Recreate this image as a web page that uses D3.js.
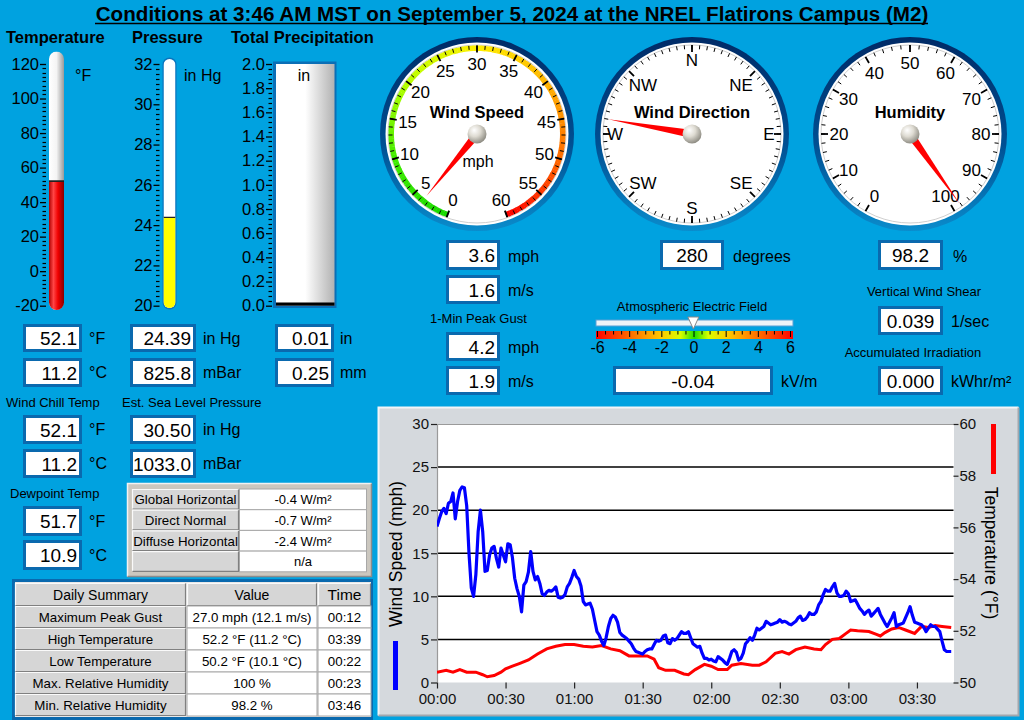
<!DOCTYPE html>
<html><head><meta charset="utf-8">
<script src="https://cdnjs.cloudflare.com/ajax/libs/d3/7.8.5/d3.min.js"></script>
<style>html,body{margin:0;padding:0;background:#00A2E0;overflow:hidden}</style>
</head><body>
<svg id="c" width="1024" height="720"></svg>
<script>
// ===================== DATA =====================
const titleText = "Conditions at 3:46 AM MST on September 5, 2024 at the NREL Flatirons Campus (M2)";
const headerLabels = ["Temperature", "Pressure", "Total Precipitation"];
const tempTicks = [-20, 0, 20, 40, 60, 80, 100, 120];
const pressTicks = [20, 22, 24, 26, 28, 30, 32];
const precipTicks = [0, 0.2, 0.4, 0.6, 0.8, 1.0, 1.2, 1.4, 1.6, 1.8, 2.0];
const airTemp = [52.1, 11.2];          // °F, °C
const pressure = [24.39, 825.8];       // in Hg, mBar
const precip = [0.01, 0.25];           // in, mm
const windChill = [52.1, 11.2];
const seaLevel = [30.50, 1033.0];
const dewpoint = [51.7, 10.9];
const windSpeedNow = [3.6, 1.6];       // mph, m/s
const peakGust = [4.2, 1.9];
const windDirNow = 280;
const humidityNow = 98.2;
const windShear = 0.039;
const irradiation = 0.000;
const efield = -0.04;
const speedGaugeTicks = [0, 5, 10, 15, 20, 25, 30, 35, 40, 45, 50, 55, 60];
const humidityTicks = [0, 10, 20, 30, 40, 50, 60, 70, 80, 90, 100];
const compassLabels = ["N", "NE", "E", "SE", "S", "SW", "W", "NW"];
const efieldTicks = [-6, -4, -2, 0, 2, 4, 6];
const irrLabels = ["Global Horizontal", "Direct Normal", "Diffuse Horizontal", ""];
const irrValues = ["-0.4 W/m²", "-0.7 W/m²", "-2.4 W/m²", "n/a"];
const summaryHeader = ["Daily Summary", "Value", "Time"];
const summaryLabels = ["Maximum Peak Gust", "High Temperature", "Low Temperature", "Max. Relative Humidity", "Min. Relative Humidity"];
const summaryValues = ["27.0 mph (12.1 m/s)", "52.2 °F  (11.2 °C)", "50.2 °F  (10.1 °C)", "100 %", "98.2 %"];
const summaryTimes = ["00:12", "03:39", "00:22", "00:23", "03:46"];

// Time series: one wind-speed sample per minute starting 00:00 (mph)
const windSpeedSeries = [
 18.1,19.0,19.8,20.2,19.6,20.8,21.0,22.0,19.0,21.0,22.3,22.7,22.6,20.5,15.0,11.0,10.0,12.5,17.5,20.0,
 17.5,12.9,13.0,14.8,15.6,15.8,14.4,13.4,15.6,14.8,14.0,16.1,16.0,14.5,12.1,10.9,10.0,8.2,11.3,11.7,
 12.8,15.2,12.9,11.9,12.3,11.5,10.3,10.1,10.5,10.7,10.6,10.8,11.1,9.9,9.8,9.9,10.2,11.1,11.5,12.2,
 13.0,12.3,12.0,11.2,9.4,9.0,9.1,9.2,8.5,7.2,5.9,5.5,4.8,4.3,5.2,6.5,7.4,7.8,7.6,7.0,
 5.8,5.5,5.3,5.1,4.8,4.5,4.0,3.6,3.5,3.4,3.3,3.6,3.8,3.9,3.9,4.4,4.9,4.8,4.9,5.4,
 5.5,4.6,4.5,5.1,4.9,5.1,5.5,5.9,5.7,5.7,5.9,5.2,4.5,4.3,4.1,4.2,3.4,2.8,2.8,2.6,
 2.7,2.5,2.4,3.0,2.8,2.6,2.3,2.1,2.8,3.6,3.8,3.5,2.6,2.8,3.4,4.5,4.8,5.2,4.9,5.5,
 6.3,6.1,6.3,6.5,7.1,6.9,6.7,6.8,6.9,7.0,7.3,7.0,7.1,7.0,6.8,6.7,6.9,7.1,7.5,7.7,
 7.2,7.3,7.6,8.1,7.9,7.9,8.2,9.0,9.4,10.2,10.8,10.6,10.6,11.1,11.5,10.4,10.0,10.0,10.1,10.6,
 10.3,9.4,9.5,9.6,9.1,8.6,8.3,7.9,8.2,8.4,7.7,8.0,8.3,8.6,7.9,7.4,6.9,6.5,7.0,7.5,
 8.1,6.5,6.7,6.8,6.9,7.5,8.1,8.8,7.8,7.0,6.9,6.8,6.7,6.4,5.9,6.3,6.7,6.5,6.5,6.2,
 5.9,4.8,3.8,3.6,3.6,3.6
];
const tempMinutes = [0,4,7,10,13,17,20,22,25,28,30,33,36,40,44,48,52,56,60,64,68,72,76,80,84,88,92,95,97,100,
 104,108,110,113,117,120,123,127,129,133,138,141,144,148,151,154,157,161,165,168,170,173,176,179,181,184,189,192,194,196,
 199,202,205,209,212,215,218,221,225];
const tempSeries = [50.40,50.47,50.40,50.50,50.40,50.40,50.30,50.22,50.27,50.40,50.53,50.63,50.73,50.87,51.10,51.30,51.40,51.47,51.47,51.40,
 51.37,51.43,51.30,51.23,51.03,51.03,51.03,50.90,50.57,50.47,50.47,50.33,50.30,50.50,50.70,50.63,50.50,50.50,50.67,50.73,
 50.67,50.67,50.80,51.13,51.20,51.10,51.27,51.37,51.30,51.27,51.47,51.67,51.70,51.90,52.03,52.00,51.97,51.87,51.80,51.93,
 52.07,52.13,52.03,51.90,52.17,52.13,52.20,52.17,52.13];
const timeTicks = [0, 30, 60, 90, 120, 150, 180, 210];
const speedAxisTicks = [0, 5, 10, 15, 20, 25, 30];
const tempAxisTicks = [50, 52, 54, 56, 58, 60];

// ===================== DRAWING =====================
const FONT = '"Liberation Sans", Arial, Helvetica, sans-serif';
const BG = '#00A2E0', BOXC = '#0A69AE';
const svg = d3.select('#c').style('font-family', FONT);
svg.append('rect').attr('width', 1024).attr('height', 720).attr('fill', BG);
const defs = svg.append('defs');
function lin(id, stops, x1 = 0, y1 = 0, x2 = 1, y2 = 0) {
  const g = defs.append('linearGradient').attr('id', id).attr('x1', x1).attr('y1', y1).attr('x2', x2).attr('y2', y2);
  stops.forEach(([o, c]) => g.append('stop').attr('offset', o).attr('stop-color', c));
}
lin('tubeW', [[0, '#ffffff'], [0.5, '#f4f4f4'], [1, '#9a9a9a']]);
lin('tubeR', [[0, '#b00000'], [0.3, '#ff4545'], [0.6, '#f00000'], [1, '#880000']]);
lin('precG', [[0, '#ffffff'], [0.5, '#ffffff'], [1, '#b2b2b2']]);
lin('ring', [[0, '#002a66'], [0.55, '#004f92'], [1, '#0a8ccc']], 0, 0, 0, 1);
lin('efGrad', [[0, '#ff0000'], [0.17, '#ff6a00'], [0.33, '#ffc800'], [0.43, '#d8ff00'], [0.5, '#20e000'], [0.57, '#d8ff00'], [0.67, '#ffc800'], [0.83, '#ff6a00'], [1, '#ff0000']]);
const kg = defs.append('radialGradient').attr('id', 'knob').attr('cx', 0.4).attr('cy', 0.35).attr('r', 0.7).attr('fx', 0.35).attr('fy', 0.3);
[[0, '#ffffff'], [0.45, '#dedbd2'], [1, '#85837a']].forEach(([o, c]) => kg.append('stop').attr('offset', o).attr('stop-color', c));

function txt(x, y, s, o = {}) {
  return svg.append('text').attr('x', x).attr('y', y).attr('font-size', o.size || 13)
    .attr('font-weight', o.bold ? 'bold' : null).attr('text-anchor', o.anchor || 'start')
    .attr('fill', o.fill || '#000').text(s);
}
function vbox(x, y, w, h, val, align) {
  svg.append('rect').attr('x', x).attr('y', y).attr('width', w).attr('height', h).attr('fill', BOXC);
  svg.append('rect').attr('x', x + 3).attr('y', y + 3).attr('width', w - 6).attr('height', h - 6).attr('fill', '#fff');
  if (align === 'center') txt(x + w / 2, y + h / 2 + 7, val, {size: 19, anchor: 'middle'});
  else txt(x + w - 5, y + h / 2 + 7, val, {size: 19, anchor: 'end'});
}

// ---- Title ----
const tt = txt(512, 21, titleText, {size: 19.5, bold: true, anchor: 'middle'});
const tl = tt.node().getComputedTextLength();
tt.attr('font-size', 19.5 * 833 / tl);
svg.append('line').attr('x1', 95).attr('x2', 928).attr('y1', 23.5).attr('y2', 23.5).attr('stroke', '#000').attr('stroke-width', 1.5);

// ---- Headers ----
txt(6, 43, headerLabels[0], {size: 16.5, bold: true});
txt(132, 43, headerLabels[1], {size: 16.5, bold: true});
txt(231, 43, headerLabels[2], {size: 16.5, bold: true});

// ---- vertical scales ----
function vAxis(scale, x, majors, minorStep, fmt) {
  const g = svg.append('g').attr('transform', `translate(${x},0)`);
  g.call(d3.axisLeft(scale).tickValues(majors).tickSize(6).tickPadding(1).tickFormat(fmt));
  g.select('.domain').remove();
  g.selectAll('.tick line').attr('stroke', '#000').attr('stroke-width', 1.3);
  g.selectAll('text').attr('font-size', 16.5).attr('font-family', FONT).attr('fill', '#000');
  const [a, b] = scale.domain();
  const minors = d3.range(Math.round((b - a) / minorStep) + 1).map(i => a + i * minorStep)
    .filter(v => !majors.some(m => Math.abs(m - v) < 1e-6));
  g.selectAll('.mn').data(minors).join('line').attr('x1', -3.5).attr('x2', 0)
    .attr('y1', d => Math.round(scale(d)) + 0.5).attr('y2', d => Math.round(scale(d)) + 0.5)
    .attr('stroke', '#000').attr('stroke-width', 1.2);
}
const yTemp = d3.scaleLinear([-20, 120], [305.7, 64]);
const yPress = d3.scaleLinear([20, 32], [305.7, 64]);
const yPrec = d3.scaleLinear([0, 2], [305.7, 64]);
vAxis(yTemp, 46, tempTicks, 2.5, d => d);
vAxis(yPress, 159.5, pressTicks, 0.25, d => d);
vAxis(yPrec, 272, precipTicks, 0.04, d => d.toFixed(1));

// temperature thermometer
const tx = 49, tw = 15;
svg.append('clipPath').attr('id', 'tclip').append('rect').attr('x', tx).attr('y', 51.5).attr('width', tw).attr('height', 258.5).attr('rx', 7.5);
const tg = svg.append('g').attr('clip-path', 'url(#tclip)');
tg.append('rect').attr('x', tx).attr('y', 51.5).attr('width', tw).attr('height', 258.5).attr('fill', 'url(#tubeW)');
tg.append('rect').attr('x', tx).attr('y', yTemp(airTemp[0])).attr('width', tw).attr('height', 310 - yTemp(airTemp[0])).attr('fill', 'url(#tubeR)');
tg.append('line').attr('x1', tx).attr('x2', tx + tw).attr('y1', yTemp(airTemp[0])).attr('y2', yTemp(airTemp[0])).attr('stroke', '#222').attr('stroke-width', 1.8);
txt(75, 81, '°F', {size: 16});

// pressure tube
const px = 163.5, pw = 12;
svg.append('rect').attr('x', px - 1).attr('y', 57.5).attr('width', pw + 2).attr('height', 252).attr('rx', 7).attr('fill', '#0a74bd');
svg.append('clipPath').attr('id', 'pclip').append('rect').attr('x', px).attr('y', 59).attr('width', pw).attr('height', 249).attr('rx', 6);
const pg = svg.append('g').attr('clip-path', 'url(#pclip)');
pg.append('rect').attr('x', px).attr('y', 59).attr('width', pw).attr('height', 249).attr('fill', '#fff');
pg.append('rect').attr('x', px).attr('y', yPress(pressure[0])).attr('width', pw).attr('height', 310 - yPress(pressure[0])).attr('fill', '#ffff00');
pg.append('line').attr('x1', px).attr('x2', px + pw).attr('y1', yPress(pressure[0])).attr('y2', yPress(pressure[0])).attr('stroke', '#222').attr('stroke-width', 1.3);
txt(184, 81, 'in Hg', {size: 16});

// precipitation tank
svg.append('rect').attr('x', 273).attr('y', 61.5).attr('width', 63.5).attr('height', 246.5).attr('fill', '#0b6fb6');
svg.append('rect').attr('x', 276).attr('y', 64).attr('width', 58.5).attr('height', 241.7).attr('fill', 'url(#precG)');
svg.append('rect').attr('x', 276).attr('y', yPrec(precip[0]) - 2).attr('width', 58.5).attr('height', yPrec(0) - yPrec(precip[0]) + 2).attr('fill', '#000');
txt(304, 81, 'in', {size: 16, anchor: 'middle'});

// ---- left value boxes ----
vbox(23, 324, 59, 28, airTemp[0].toFixed(1)); txt(89, 344, '°F', {size: 16});
vbox(23, 358, 59, 29, airTemp[1].toFixed(1)); txt(89, 378, '°C', {size: 16});
vbox(130, 324, 66, 28, pressure[0].toFixed(2)); txt(203, 344, 'in Hg', {size: 16});
vbox(130, 358, 66, 29, pressure[1].toFixed(1)); txt(203, 378, 'mBar', {size: 16});
vbox(275, 324, 59, 28, precip[0].toFixed(2)); txt(340, 344, 'in', {size: 16});
vbox(275, 358, 59, 29, precip[1].toFixed(2)); txt(340, 378, 'mm', {size: 16});
txt(6, 407, 'Wind Chill Temp', {size: 13});
txt(122, 407, 'Est. Sea Level Pressure', {size: 13});
vbox(23, 415, 59, 29, windChill[0].toFixed(1)); txt(89, 435, '°F', {size: 16});
vbox(23, 449, 59, 29, windChill[1].toFixed(1)); txt(89, 469, '°C', {size: 16});
vbox(130, 415, 66, 29, seaLevel[0].toFixed(2)); txt(203, 435, 'in Hg', {size: 16});
vbox(130, 449, 66, 29, seaLevel[1].toFixed(1)); txt(203, 469, 'mBar', {size: 16});
txt(10, 498, 'Dewpoint Temp', {size: 13});
vbox(23, 506, 59, 30, dewpoint[0].toFixed(1)); txt(89, 527, '°F', {size: 16});
vbox(23, 540, 59, 30, dewpoint[1].toFixed(1)); txt(89, 561, '°C', {size: 16});

// ---- button helper ----
function button(x, y, w, h, s, size) {
  svg.append('rect').attr('x', x).attr('y', y).attr('width', w).attr('height', h).attr('fill', '#d6d6d6');
  svg.append('path').attr('d', `M${x + 0.5},${y + h - 0.5}V${y + 0.5}H${x + w - 0.5}`).attr('fill', 'none').attr('stroke', '#fafafa').attr('stroke-width', 1.2);
  svg.append('path').attr('d', `M${x + 0.5},${y + h - 0.5}H${x + w - 0.5}V${y + 0.5}`).attr('fill', 'none').attr('stroke', '#808080').attr('stroke-width', 1.2);
  if (s) txt(x + w / 2, y + h / 2 + 5, s, {size: size || 13, anchor: 'middle'});
}
function cell(x, y, w, h, s, size) {
  svg.append('rect').attr('x', x).attr('y', y).attr('width', w).attr('height', h).attr('fill', '#fff').attr('stroke', '#a8a8a8').attr('stroke-width', 1);
  txt(x + w / 2, y + h / 2 + 5, s, {size: size || 13, anchor: 'middle'});
}

// ---- irradiance table ----
svg.append('rect').attr('x', 127).attr('y', 483).attr('width', 245).attr('height', 94).attr('fill', '#cbc7bf');
svg.append('path').attr('d', 'M127.5,576.5V483.5H371.5').attr('fill', 'none').attr('stroke', '#f2f2f2').attr('stroke-width', 1.5);
svg.append('path').attr('d', 'M127.5,576.5H371.5V483.5').attr('fill', 'none').attr('stroke', '#8c8c8c').attr('stroke-width', 1.5);
irrLabels.forEach((l, i) => {
  const y = 489 + i * 20.7;
  button(132, y, 107, 20.7, l, 13.3);
  cell(239.5, y, 127, 20.7, irrValues[i], 13);
});

// ---- daily summary table ----
svg.append('rect').attr('x', 12).attr('y', 579).attr('width', 361).attr('height', 141).attr('fill', BOXC);
svg.append('rect').attr('x', 15).attr('y', 582).attr('width', 356).attr('height', 135).attr('fill', '#e8e8e8');
const colX = [15, 187, 318], colW = [171, 130, 53];
summaryHeader.forEach((h, j) => button(colX[j], 583, colW[j], 23, h, j === 2 ? 15.5 : 14));
summaryLabels.forEach((l, i) => {
  const y = 606 + i * 22;
  button(colX[0], y, colW[0], 22, l, 13.3);
  cell(colX[1], y, colW[1], 22, summaryValues[i], 13.3);
  cell(colX[2], y, colW[2], 22, summaryTimes[i], 13.3);
});

// ---- gauges ----
const rad = d => d * Math.PI / 180;
const pol = (r, deg) => [r * Math.sin(rad(deg)), -r * Math.cos(rad(deg))];
function gaugeBase(cx, cy) {
  const g = svg.append('g').attr('transform', `translate(${cx},${cy})`);
  g.append('circle').attr('r', 97).attr('fill', 'url(#ring)');
  g.append('circle').attr('r', 91.5).attr('fill', '#fff');
  g.append('circle').attr('r', 89).attr('fill', 'none').attr('stroke', '#cfcfcf').attr('stroke-width', 1);
  return g;
}
function ticksOn(g, vals, angle, r1, r2, w) {
  g.selectAll(null).data(vals).join('line')
    .attr('x1', d => pol(r1, angle(d))[0]).attr('y1', d => pol(r1, angle(d))[1])
    .attr('x2', d => pol(r2, angle(d))[0]).attr('y2', d => pol(r2, angle(d))[1])
    .attr('stroke', '#000').attr('stroke-width', w);
}
function labelsOn(g, vals, angle, r, fmt, size) {
  g.selectAll(null).data(vals).join('text')
    .attr('x', d => pol(typeof r === 'function' ? r(d) : r, angle(d))[0])
    .attr('y', d => pol(typeof r === 'function' ? r(d) : r, angle(d))[1])
    .attr('dy', '0.36em').attr('text-anchor', 'middle').attr('font-size', size).attr('fill', '#000').text(fmt);
}
function needle(g, deg, len, hw) {
  const [tx2, ty2] = pol(len, deg);
  const a = rad(deg), px2 = Math.cos(a) * hw, py2 = Math.sin(a) * hw;
  g.append('path').attr('d', `M${px2},${py2}L${tx2},${ty2}L${-px2},${-py2}Z`).attr('fill', '#ff0000');
  g.append('circle').attr('r', 9.5).attr('fill', 'url(#knob)');
}

// wind speed
const wsAng = d3.scaleLinear([0, 60], [-160, 160]);
const wsCol = d3.scaleLinear([0, 10, 20, 30, 40, 50, 60], ['#18d800', '#40ec00', '#b8ff00', '#fff000', '#ffb400', '#ff6a00', '#ff0000']);
const g1 = gaugeBase(477, 134);
const arcGen = d3.arc().innerRadius(83).outerRadius(88.5);
g1.selectAll(null).data(d3.range(0, 60, 0.5)).join('path')
  .attr('d', d => arcGen({startAngle: rad(wsAng(d)), endAngle: rad(wsAng(d + 0.5)) + 0.004}))
  .attr('fill', d => wsCol(d + 0.25));
ticksOn(g1, d3.range(0, 61, 1), wsAng, 84.5, 88.5, 1);
ticksOn(g1, speedGaugeTicks, wsAng, 81.5, 88.5, 1.8);
labelsOn(g1, speedGaugeTicks, wsAng, 70.5, d => d, 17);
g1.append('text').attr('x', 0).attr('y', -16).attr('text-anchor', 'middle').attr('font-size', 16.5).attr('font-weight', 'bold').text('Wind Speed');
g1.append('text').attr('x', 1).attr('y', 33).attr('text-anchor', 'middle').attr('font-size', 16).text('mph');
needle(g1, wsAng(windSpeedNow[0]), 80, 4);

// wind direction
const dirAng = d3.scaleLinear([0, 360], [0, 360]);
const g2 = gaugeBase(692, 134);
ticksOn(g2, d3.range(0, 360, 5), dirAng, 85, 89, 1);
ticksOn(g2, d3.range(0, 360, 45), dirAng, 82, 89, 1.8);
const compassR = d => (d % 90 !== 0 ? 69.5 : (d === 90 || d === 270 ? 77 : 74));
labelsOn(g2, compassLabels.map((l, i) => i * 45), dirAng, compassR, d => compassLabels[d / 45], 17);
g2.append('text').attr('x', 0).attr('y', -16).attr('text-anchor', 'middle').attr('font-size', 16.5).attr('font-weight', 'bold').text('Wind Direction');
needle(g2, dirAng(windDirNow), 85, 4);

// humidity
const huAng = d3.scaleLinear([0, 100], [-150, 150]);
const g3 = gaugeBase(910, 134);
ticksOn(g3, d3.range(0, 101, 2), huAng, 85, 89, 1);
ticksOn(g3, humidityTicks, huAng, 82, 89, 1.8);
labelsOn(g3, humidityTicks, huAng, 71, d => d, 17);
g3.append('text').attr('x', 0).attr('y', -16).attr('text-anchor', 'middle').attr('font-size', 16.5).attr('font-weight', 'bold').text('Humidity');
needle(g3, huAng(humidityNow), 86, 4);

// ---- middle readouts ----
vbox(446, 240, 54, 30, windSpeedNow[0].toFixed(1)); txt(508, 262, 'mph', {size: 16});
vbox(446, 275, 54, 29, windSpeedNow[1].toFixed(1)); txt(508, 296, 'm/s', {size: 16});
txt(430, 323, '1-Min Peak Gust', {size: 13});
vbox(446, 332, 54, 29, peakGust[0].toFixed(1)); txt(508, 353, 'mph', {size: 16});
vbox(446, 366, 54, 29, peakGust[1].toFixed(1)); txt(508, 387, 'm/s', {size: 16});
vbox(660, 240, 64, 30, String(windDirNow), 'center'); txt(733, 262, 'degrees', {size: 16});
vbox(878, 240, 65, 30, humidityNow.toFixed(1), 'center'); txt(953, 262, '%', {size: 16});
txt(924, 296, 'Vertical Wind Shear', {size: 13, anchor: 'middle'});
vbox(878, 306, 65, 29, windShear.toFixed(3), 'center'); txt(951, 327, '1/sec', {size: 16});
txt(913, 357, 'Accumulated Irradiation', {size: 13, anchor: 'middle'});
vbox(878, 366, 65, 29, irradiation.toFixed(3), 'center'); txt(951, 387, 'kWhr/m²', {size: 16});

// atmospheric electric field slider
txt(692, 311, 'Atmospheric Electric Field', {size: 13, anchor: 'middle'});
const xE = d3.scaleLinear([-6, 6], [597.5, 790.5]);
svg.append('rect').attr('x', 596).attr('y', 320).attr('width', 197).attr('height', 6).attr('fill', '#eef4f8').attr('stroke', '#5aa0d4').attr('stroke-width', 1);
svg.append('rect').attr('x', 596).attr('y', 331).attr('width', 197).attr('height', 8).attr('fill', 'url(#efGrad)');
svg.selectAll(null).data(d3.range(-6, 6.01, 0.5)).join('line')
  .attr('x1', d => xE(d)).attr('x2', d => xE(d)).attr('y1', 331).attr('y2', d => Number.isInteger(d) && d % 2 === 0 ? 337 : 334.5)
  .attr('stroke', '#000').attr('stroke-width', 1);
svg.selectAll(null).data(efieldTicks).join('text').attr('x', d => xE(d)).attr('y', 353)
  .attr('text-anchor', 'middle').attr('font-size', 16).text(d => d);
const ex = xE(efield);
svg.append('path').attr('d', `M${ex - 5.5},317L${ex + 5.5},317L${ex},329Z`).attr('fill', '#fff').attr('stroke', '#888').attr('stroke-width', 1);
vbox(613, 366, 160, 29, efield.toFixed(2), 'center'); txt(781, 387, 'kV/m', {size: 16});

// ---- time-series chart ----
svg.append('rect').attr('x', 378).attr('y', 407).attr('width', 641).attr('height', 309).attr('fill', '#d5d9dd');
svg.append('path').attr('d', 'M378.5,715.5V407.5H1018.5').attr('fill', 'none').attr('stroke', '#f3f5f7').attr('stroke-width', 2);
svg.append('path').attr('d', 'M378.5,715.5H1018.5V407.5').attr('fill', 'none').attr('stroke', '#a2a7ad').attr('stroke-width', 2);
const X0 = 437, X1 = 953.5, Y0 = 682.5, Y1 = 424;
const xS = d3.scaleLinear([0, 226], [X0, X1]);
const yS = d3.scaleLinear([0, 30], [Y0, Y1]);
const yT = d3.scaleLinear([50, 60], [Y0, Y1]);
svg.append('rect').attr('x', X0).attr('y', Y1).attr('width', X1 - X0 + 0.5).attr('height', Y0 - Y1).attr('fill', '#fff');
svg.selectAll(null).data(speedAxisTicks.filter(d => d > 0 && d < 30)).join('line')
  .attr('x1', X0).attr('x2', X1).attr('y1', d => yS(d)).attr('y2', d => yS(d)).attr('stroke', '#000').attr('stroke-width', 1.5);
svg.append('line').attr('x1', X0).attr('x2', X1).attr('y1', Y1 + 0.5).attr('y2', Y1 + 0.5).attr('stroke', '#9a9a9a').attr('stroke-width', 1.2);
svg.append('line').attr('x1', X0 + 0.5).attr('x2', X0 + 0.5).attr('y1', Y1).attr('y2', Y0).attr('stroke', '#9a9a9a').attr('stroke-width', 1.2);

function styleAxis(g, size) {
  g.select('.domain').remove();
  g.selectAll('.tick line').attr('stroke', '#222').attr('stroke-width', 1.2);
  g.selectAll('text').attr('font-size', size).attr('font-family', FONT).attr('fill', '#111');
}
const fmtTime = m => `${String(Math.floor(m / 60)).padStart(2, '0')}:${String(m % 60).padStart(2, '0')}`;
styleAxis(svg.append('g').attr('transform', `translate(0,${Y0})`)
  .call(d3.axisBottom(xS).tickValues(timeTicks).tickFormat(fmtTime).tickSize(6).tickPadding(5)), 15);
styleAxis(svg.append('g').attr('transform', `translate(${X0},0)`)
  .call(d3.axisLeft(yS).tickValues(speedAxisTicks).tickSize(6).tickPadding(2)), 15);
styleAxis(svg.append('g').attr('transform', `translate(${X1},0)`)
  .call(d3.axisRight(yT).tickValues(tempAxisTicks).tickSize(5).tickPadding(1)), 15);

svg.append('clipPath').attr('id', 'plotclip').append('rect').attr('x', X0).attr('y', Y1 - 2).attr('width', X1 - X0 + 2).attr('height', Y0 - Y1 + 4);
const plot = svg.append('g').attr('clip-path', 'url(#plotclip)');
plot.append('path').datum(tempSeries)
  .attr('d', d3.line().x((d, i) => xS(tempMinutes[i])).y(d => yT(d)))
  .attr('fill', 'none').attr('stroke', '#ff0000').attr('stroke-width', 3);
plot.append('path').datum(windSpeedSeries)
  .attr('d', d3.line().x((d, i) => xS(i)).y(d => yS(d)))
  .attr('fill', 'none').attr('stroke', '#0000ff').attr('stroke-width', 3.2).attr('stroke-linejoin', 'round');

// axis titles + legend bars
svg.append('text').attr('transform', 'translate(402,554) rotate(-90)').attr('text-anchor', 'middle').attr('font-size', 17.5).text('Wind Speed (mph)');
svg.append('rect').attr('x', 393).attr('y', 641).attr('width', 5).attr('height', 49).attr('fill', '#0000ff');
svg.append('text').attr('transform', 'translate(985,553) rotate(90)').attr('text-anchor', 'middle').attr('font-size', 17.5).text('Temperature (°F)');
svg.append('rect').attr('x', 991).attr('y', 424).attr('width', 5).attr('height', 50).attr('fill', '#ff0000');
</script></body></html>
